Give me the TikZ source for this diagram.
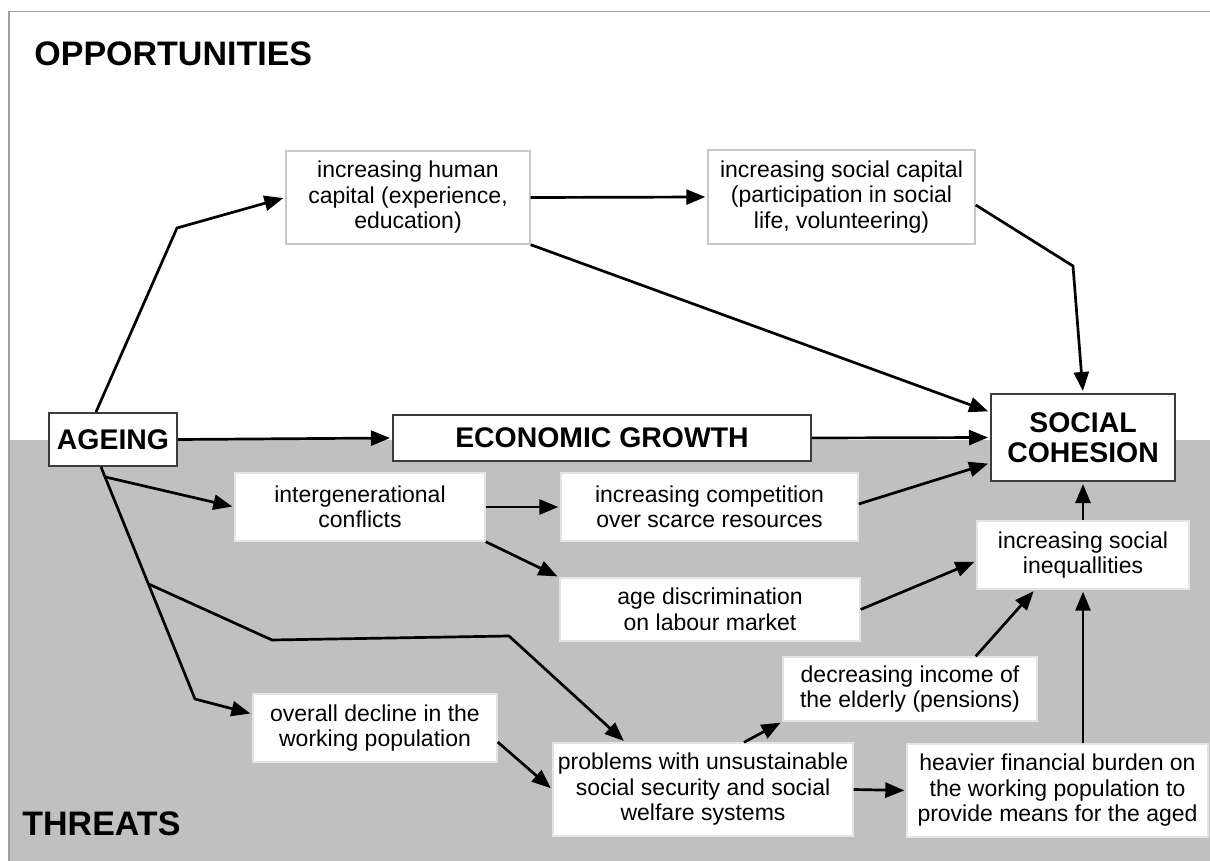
\documentclass[tikz,border=0pt]{standalone}
\usepackage{fontspec}
\setmainfont{Liberation Sans}
\usetikzlibrary{arrows.meta}
\definecolor{zonegray}{RGB}{192,192,192}
\definecolor{framegray}{RGB}{160,160,160}
\definecolor{softedge}{RGB}{200,200,200}
\definecolor{paleedge}{RGB}{228,228,228}
\definecolor{darkedge}{RGB}{60,60,60}
\tikzset{
  box/.style={fill=white, align=center, inner sep=2pt, font=\fontsize{11.5}{12.75}\selectfont},
  upperbox/.style={box, draw=softedge, line width=0.7pt},
  lowerbox/.style={box, draw=paleedge, line width=0.7pt},
  keybox/.style={fill=white, draw=darkedge, line width=1pt, align=center, inner sep=2pt, font=\fontsize{14.2}{15}\selectfont\bfseries},
  heading/.style={anchor=west, inner sep=0pt, font=\fontsize{17}{20}\selectfont\bfseries},
  arr/.style={-{Triangle[length=9.5pt,width=7.5pt]}, line width=1.35pt, shorten >=1pt},
}

\begin{document}
\begin{tikzpicture}[x=0.5pt,y=-0.5pt]
\useasboundingbox (0,0) rectangle (1210,861);
\fill[zonegray] (9,440) rectangle (1210,861);
\draw[framegray, line width=0.8pt] (1210,11.5) -- (9,11.5) -- (9,861);

\node[heading] (opps) at (34,54) {OPPORTUNITIES};
\node[heading] (threats) at (22,824) {THREATS};

\node[keybox, minimum width=64pt, minimum height=26.5pt] (ageing) at (113,439.5) {AGEING};
\node[keybox, minimum width=209pt, minimum height=23pt] (growth) at (602,438) {ECONOMIC GROWTH};
\node[keybox, minimum width=92pt, minimum height=43.5pt] (cohesion) at (1083,437.5) {SOCIAL\\COHESION};

\node[upperbox, minimum width=122pt, minimum height=46.5pt] (human) at (408,197.5) {increasing human\\capital (experience,\\education)};
\node[upperbox, minimum width=133.5pt, minimum height=47pt] (social) at (841.5,197) {increasing social capital\\(participation in social\\life, volunteering)};

\node[lowerbox, minimum width=125pt, minimum height=34pt] (conflicts) at (360,507) {intergenerational\\conflicts};
\node[lowerbox, minimum width=148.5pt, minimum height=34pt] (competition) at (709.5,507) {increasing competition\\over scarce resources};
\node[lowerbox, minimum width=150pt, minimum height=31.5pt] (discrim) at (710,609.5) {age discrimination\\on labour market};
\node[lowerbox, minimum width=106pt, minimum height=34pt] (inequal) at (1083,555) {increasing social\\inequallities};
\node[lowerbox, minimum width=127pt, minimum height=32pt] (income) at (910,689) {decreasing income of\\the elderly (pensions)};
\node[lowerbox, minimum width=122pt, minimum height=34pt] (decline) at (375,728) {overall decline in the\\working population};
\node[lowerbox, minimum width=150pt, minimum height=46.5pt] (problems) at (703,789.5) {problems with unsustainable\\social security and social\\welfare systems};
\node[lowerbox, minimum width=150.5pt, minimum height=46.5pt] (burden) at (1057.5,790.5) {heavier financial burden on\\the working population to\\provide means for the aged};

\coordinate (h1) at (177,228);
\coordinate (s1) at (1073,266);
\coordinate (t0) at ([xshift=-6pt]ageing.south);
\coordinate (t1) at (105.4,477);
\coordinate (t2) at (148.6,584);
\coordinate (t3) at (195,699);
\coordinate (t4) at (272,640);
\coordinate (t5) at (509,636);

\draw[arr] ([xshift=-8.5pt]ageing.north) -- (h1) -- (human.west);
\draw[arr] (human.east) -- (social.west);
\draw[arr] (human.south east) -- ([yshift=-9.5pt]cohesion.north west);
\draw[arr] ([yshift=-4pt]social.east) -- (s1) -- (cohesion.north);
\draw[arr] (ageing.east) -- (growth.west);
\draw[arr] (growth.east) -- (cohesion.west);
\draw[arr] (t0) -- (t3) -- ([yshift=7pt]decline.west);
\draw[arr] (t1) -- (conflicts.west);
\draw[arr] (t2) -- (t4) -- (t5) -- ([xshift=36.5pt]problems.north west);
\draw[arr] (conflicts.east) -- (competition.west);
\draw[arr] (conflicts.south east) -- (discrim.north west);
\draw[arr] ([yshift=1.5pt]competition.east) -- ([yshift=9.5pt]cohesion.south west);
\draw[arr] (discrim.east) -- ([yshift=-3pt]inequal.west);
\draw[arr] ([yshift=-7pt]decline.east) -- (problems.west);
\draw[arr] ([xshift=20.5pt]problems.north) -- (income.south west);
\draw[arr] (problems.east) -- (burden.west);
\draw[arr] ([xshift=-31pt]income.north east) -- ([xshift=-24pt]inequal.south);
\draw[arr] (burden.north -| inequal.south) -- (inequal.south);
\draw[arr] (inequal.north) -- (cohesion.south);
\end{tikzpicture}
\end{document}
